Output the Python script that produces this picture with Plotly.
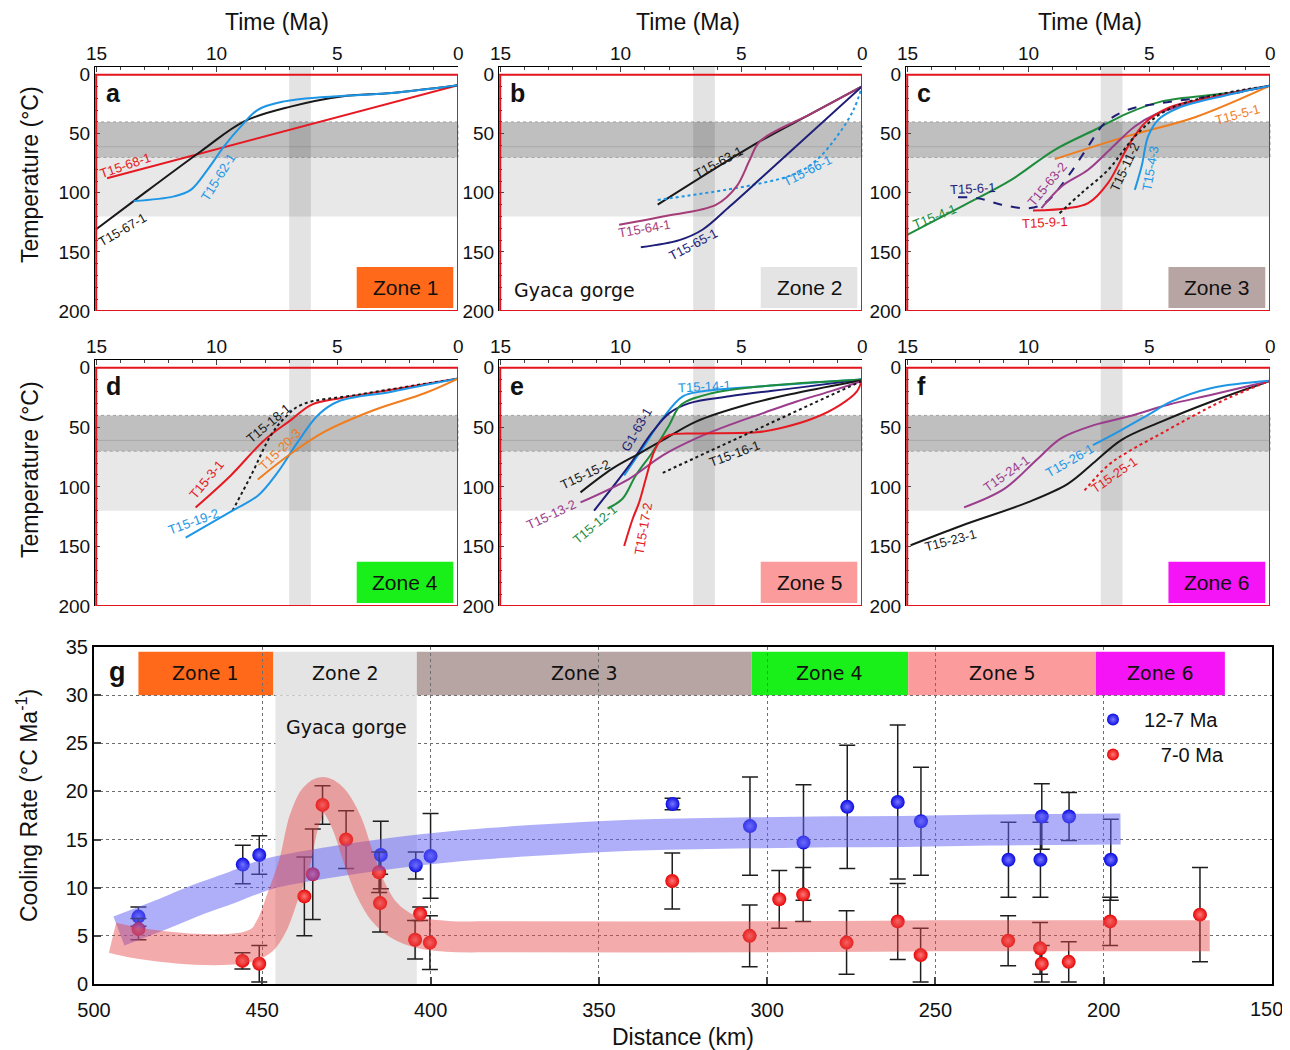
import plotly.graph_objects as go

# The page places the figure 8 px from the window's top-left corner,
# so the figure is sized to fill the rest of the 1290x1050 window.
OX, OY = 8, 8
FW, FH = 1282, 1042
FONT = "Liberation Sans, Arial, sans-serif"
VFONT = "DejaVu Sans, Verdana, sans-serif"


def fx(px):
    return (px - OX) / FW


def fy(py):
    return 1 - (py - OY) / FH


# ===================== DATA =====================
time_ticks = [15, 10, 5, 0]
temp_ticks = [0, 50, 100, 150, 200]
dist_ticks = [500, 450, 400, 350, 300, 250, 200, 150]
rate_ticks = [0, 5, 10, 15, 20, 25, 30, 35]

# ---- Panel a (Zone 1): time (Ma), temperature (degC)
t15_68_1_time = [14.55, 0.0]
t15_68_1_temp = [87.6, 9.0]
t15_67_1_time = [15.0, 13.45, 10.67, 8.86, 6.9, 4.83, 2.75, 0.0]
t15_67_1_temp = [130.8, 107, 65, 39.5, 26.8, 18.4, 15.5, 9.0]
t15_62_1_time = [13.45, 11.78, 11.08, 10.39, 9.7, 9.0, 8.3, 7.2, 5.53, 2.75, 0.0]
t15_62_1_temp = [107, 103, 97.5, 80.5, 60.7, 43.8, 29.7, 22.6, 18.9, 15.5, 9.0]

# ---- Panel b (Zone 2)
t15_63_1_time = [8.47, 4.24, 2.1, 0.0]
t15_63_1_temp = [110, 56.5, 33, 9.9]
t15_66_1_time = [8.47, 4.5, 2.7, 1.87, 1.04, 0.35, 0.0]
t15_66_1_temp = [106, 93.2, 83.3, 72, 52.3, 29.7, 9.9]
t15_64_1_time = [10.07, 8.26, 6.04, 5.2, 4.65, 4.24, 2.1, 0.0]
t15_64_1_temp = [127, 120, 110, 94.6, 72, 56.5, 33, 9.9]
t15_65_1_time = [9.17, 7.57, 6.6, 5.49, 4.1, 0.0]
t15_65_1_temp = [146, 140, 131, 111.6, 86, 9.9]

# ---- Panel c (Zone 3)
t15_4_1_time = [15.0, 12.76, 10.7, 8.9, 7.24, 5.87, 4.48, 1.72, 0.0]
t15_4_1_temp = [135.6, 111.6, 89, 63.6, 46.6, 32.5, 22.6, 15.5, 9.3]
t15_6_1_time = [12.9, 12.07, 11.1, 10.0, 9.32, 8.35, 7.52, 6.83, 5.87, 4.48, 1.72, 0.0]
t15_6_1_temp = [103.7, 104.5, 110, 113, 108.8, 86, 60.7, 41, 29.7, 24, 16.5, 9.3]
t15_5_1_time = [8.9, 5.9, 3.1, 0.0]
t15_5_1_temp = [71.5, 52, 36, 9.3]
t15_63_2_time = [9.45, 8.62, 7.52, 6.55, 5.59, 4.76, 1.72, 0.0]
t15_63_2_temp = [113, 94.6, 80.5, 62, 43.8, 33.9, 16, 9.3]
t15_9_1_time = [9.8, 8.35, 7.52, 6.7, 5.87, 5.18, 4.21, 1.72, 0.0]
t15_9_1_temp = [115, 113, 108.8, 91.8, 60.7, 41, 28.2, 16.5, 9.3]
t15_11_2_time = [8.7, 7.8, 6.69, 5.59, 4.48, 3.1, 0.0]
t15_11_2_temp = [117.2, 100.3, 80.5, 52.3, 32.5, 21.2, 9.3]
t15_4_3_time = [5.59, 5.31, 5.04, 4.62, 3.79, 1.72, 0.0]
t15_4_3_temp = [97.5, 77.7, 52.3, 38.1, 28.2, 17, 9.3]

# ---- Panel d (Zone 4)
t15_3_1_time = [10.88, 9.42, 8.03, 6.92, 6.08, 4.83, 2.75, 0.0]
t15_3_1_temp = [117.3, 90.4, 60.8, 43.8, 31.1, 25.4, 18.4, 9.1]
t15_18_1_time = [9.35, 8.58, 7.75, 7.2, 6.5, 4.14, 0.0]
t15_18_1_temp = [120, 90.4, 56.5, 42.4, 31.1, 22.6, 9.1]
t15_19_2_time = [11.29, 9.35, 8.3, 7.47, 6.64, 5.8, 4.97, 2.75, 0.0]
t15_19_2_temp = [142.7, 120, 107.4, 87.6, 62.2, 39.6, 28.3, 20.1, 9.1]
t15_20_3_time = [8.3, 6.92, 5.53, 3.45, 1.36, 0.0]
t15_20_3_temp = [93.8, 72, 53.7, 35.3, 21.2, 9.1]

# ---- Panel e (Zone 5)
t15_14_1_time = [9.86, 9.1, 8.26, 7.43, 6.6, 4.1, 0.0]
t15_14_1_temp = [90.4, 67.8, 42.4, 24, 19.8, 15.5, 9.9]
g1_63_1_time = [11.11, 9.65, 8.68, 7.99, 7.15, 5.49, 2.71, 0.0]
g1_63_1_temp = [120, 82, 53.7, 38.1, 29.7, 24, 16.9, 9.9]
t15_12_1_time = [10.55, 9.93, 9.38, 8.68, 7.99, 7.5, 6.18, 4.1, 0.0]
t15_12_1_temp = [118.1, 110, 90.4, 70.7, 48, 31.1, 21.2, 15.5, 9.9]
t15_15_2_time = [11.67, 10.35, 9.24, 8.26, 6.88, 4.79, 2.71, 0.0]
t15_15_2_temp = [104.6, 84.7, 72, 60.8, 45.2, 31.1, 21.2, 10.5]
t15_13_2_time = [11.67, 9.65, 8.26, 6.88, 5.49, 4.1, 2.71, 1.32, 0.0]
t15_13_2_temp = [113, 93.2, 73.5, 59.3, 48, 38.1, 28.3, 19.8, 11]
t15_17_2_time = [9.86, 9.51, 9.24, 8.96, 8.68, 8.4, 7.99, 6.88, 4.38, 3.4, 2.01, 0.9, 0.21, 0.0]
t15_17_2_temp = [149.7, 127, 113, 93, 73.5, 62.2, 56.5, 55.1, 54.2, 50.8, 42.4, 31.1, 19.8, 9.9]
t15_16_1_time = [8.26, 0.0]
t15_16_1_temp = [88.2, 11]

# ---- Panel f (Zone 6)
t15_23_1_time = [14.86, 12.79, 10.02, 8.36, 7.25, 6.15, 4.49, 2.41, 0.0]
t15_23_1_temp = [149, 132.8, 113, 97.5, 79.1, 60.7, 45.2, 28.3, 11]
t15_24_1_time = [12.65, 10.99, 9.6, 8.64, 7.25, 5.87, 4.21, 2.41, 0.0]
t15_24_1_temp = [117.2, 101.7, 76.3, 59.3, 48, 41, 31.1, 22.6, 11]
t15_26_1_time = [7.32, 6.15, 5.04, 4.07, 2.41, 0.0]
t15_26_1_temp = [65, 52.3, 39.6, 28.3, 17, 11]
t15_25_1_time = [7.67, 6.7, 5.87, 4.49, 3.1, 1.72, 0.0]
t15_25_1_temp = [103, 82, 70.6, 55.1, 39.6, 25.4, 11]

# ---- Panel g: cooling rates vs distance
blue_dist = [486.8, 455.8, 450.9, 414.8, 404.4, 400.0, 328.1, 305.1, 289.2, 276.2,
             261.2, 254.3, 228.3, 218.4, 218.8, 210.3, 197.9]
blue_rate = [7.0, 12.4, 13.4, 13.4, 12.3, 13.3, 18.7, 16.4, 14.7, 18.4,
             18.9, 16.9, 12.9, 17.4, 12.9, 17.4, 12.9]
blue_err = [1.0, 2.0, 2.0, 3.5, 1.4, 4.4, 0.6, 5.1, 6.0, 6.4,
            8.0, 5.6, 3.9, 3.4, 3.9, 2.5, 4.2]

red_dist = [486.8, 455.9, 450.9, 437.5, 435.0, 432.1, 425.1, 415.3, 415.0, 403.1,
            404.6, 400.2, 328.2, 305.2, 296.4, 289.3, 276.4, 261.2, 254.4, 228.4,
            218.9, 218.4, 210.4, 198.1, 171.4]
red_rate = [5.7, 2.4, 2.1, 9.1, 11.4, 18.6, 15.0, 11.6, 8.4, 7.3,
            4.6, 4.3, 10.7, 5.0, 8.8, 9.3, 4.3, 6.5, 3.0, 4.5,
            3.7, 2.1, 2.3, 6.5, 7.2]
red_err = [1.1, 0.85, 1.9, 4.1, 4.7, 2.0, 3.0, 2.1, 3.0, 0.7,
           2.0, 2.8, 2.9, 3.2, 3.0, 2.8, 3.3, 3.95, 2.8, 2.6,
           2.7, 1.9, 2.1, 2.5, 4.9]

# trend bands (hand-drawn envelopes), centre lines
blue_band_dist = [492.6, 480, 470, 460, 448.5, 430.7, 411, 393, 370, 350, 330, 305, 280, 260, 230, 195]
blue_band_rate = [5.5, 7.2, 8.65, 9.9, 11.4, 12.6, 13.6, 14.3, 14.9, 15.3, 15.55, 15.7, 15.8, 15.85, 16.0, 16.1]
red_band_dist = [494.5, 488, 480, 470, 460, 454, 450, 447, 444, 440.5, 437.5, 434.5, 432, 429, 425,
                 421.5, 418, 414, 409, 403, 395, 380, 300, 250, 200, 168.5]
red_band_rate = [4.8, 4.3, 3.9, 3.6, 3.6, 3.9, 4.6, 6.2, 9.0, 12.5, 17.0, 19.3, 19.9, 19.2, 16.8,
                 13.2, 10.0, 7.6, 6.1, 5.3, 4.95, 4.9, 4.9, 5.0, 5.0, 5.0]

# zone limits along the profile (km)
zone_names = ["Zone 1", "Zone 2", "Zone 3", "Zone 4", "Zone 5", "Zone 6"]
zone_start = [486.8, 446.7, 404.1, 304.6, 258.1, 202.3]
zone_end = [446.7, 404.1, 304.6, 258.1, 202.3, 164.0]
gorge_start, gorge_end = 446.1, 404.1

# ===================== STYLE =====================
RED = "rgb(230,25,35)"
BLACK = "rgb(25,25,25)"
LBLUE = "rgb(30,150,230)"
PINK = "rgb(165,60,120)"
NAVY = "rgb(30,30,120)"
GREEN = "rgb(30,140,60)"
ORANGE = "rgb(240,125,30)"
PURPLE = "rgb(155,60,140)"

zone_colors = ["rgb(255,105,25)", "rgb(228,228,228)", "rgb(183,165,164)",
               "rgb(25,240,25)", "rgb(252,155,155)", "rgb(245,20,245)"]

# panel pixel boxes in the window (left, right, top, bottom)
px_box = {'a': (95, 458, 67, 311), 'b': (499, 862, 67, 311), 'c': (906, 1270, 67, 311),
          'd': (95, 458, 360, 606), 'e': (499, 862, 360, 606), 'f': (906, 1270, 360, 606)}
panel_keys = ['a', 'b', 'c', 'd', 'e', 'f']

curves = [
    # panel, time, temp, color, dash, label, label_x, label_y, angle
    ('a', t15_68_1_time, t15_68_1_temp, RED, 'solid', 'T15-68-1', 13.8, 77, -19),
    ('a', t15_67_1_time, t15_67_1_temp, BLACK, 'solid', 'T15-67-1', 13.9, 131, -30),
    ('a', t15_62_1_time, t15_62_1_temp, LBLUE, 'solid', 'T15-62-1', 9.95, 87, -58),
    ('b', t15_63_1_time, t15_63_1_temp, BLACK, 'solid', 'T15-63-1', 5.97, 74, -28),
    ('b', t15_66_1_time, t15_66_1_temp, LBLUE, 'dot', 'T15-66-1', 2.24, 81, -27),
    ('b', t15_64_1_time, t15_64_1_temp, PINK, 'solid', 'T15-64-1', 9.0, 130, -10),
    ('b', t15_65_1_time, t15_65_1_temp, NAVY, 'solid', 'T15-65-1', 7.0, 144, -28),
    ('c', t15_4_1_time, t15_4_1_temp, GREEN, 'solid', 'T15-4-1', 13.85, 120, -22),
    ('c', t15_6_1_time, t15_6_1_temp, NAVY, 'dash', 'T15-6-1', 12.28, 96, -3),
    ('c', t15_5_1_time, t15_5_1_temp, ORANGE, 'solid', 'T15-5-1', 1.33, 34, -15),
    ('c', t15_63_2_time, t15_63_2_temp, PURPLE, 'solid', 'T15-63-2', 9.22, 93, -50),
    ('c', t15_9_1_time, t15_9_1_temp, RED, 'solid', 'T15-9-1', 9.3, 125, -3),
    ('c', t15_11_2_time, t15_11_2_temp, BLACK, 'dot', 'T15-11-2', 5.98, 78, -65),
    ('c', t15_4_3_time, t15_4_3_temp, LBLUE, 'solid', 'T15-4-3', 4.96, 79, -80),
    ('d', t15_3_1_time, t15_3_1_temp, RED, 'solid', 'T15-3-1', 10.42, 94, -50),
    ('d', t15_18_1_time, t15_18_1_temp, BLACK, 'dot', 'T15-18-1', 7.86, 46.6, -40),
    ('d', t15_19_2_time, t15_19_2_temp, LBLUE, 'solid', 'T15-19-2', 10.97, 129, -20),
    ('d', t15_20_3_time, t15_20_3_temp, ORANGE, 'solid', 'T15-20-3', 7.38, 69, -45),
    ('e', t15_14_1_time, t15_14_1_temp, LBLUE, 'solid', 'T15-14-1', 6.51, 16, -3),
    ('e', g1_63_1_time, g1_63_1_temp, NAVY, 'solid', 'G1-63-1', 9.34, 52, -60),
    ('e', t15_12_1_time, t15_12_1_temp, GREEN, 'solid', 'T15-12-1', 11.07, 132, -40),
    ('e', t15_15_2_time, t15_15_2_temp, BLACK, 'solid', 'T15-15-2', 11.48, 90, -25),
    ('e', t15_13_2_time, t15_13_2_temp, PURPLE, 'solid', 'T15-13-2', 12.87, 123.6, -25),
    ('e', t15_17_2_time, t15_17_2_temp, RED, 'solid', 'T15-17-2', 9.08, 134.6, -80),
    ('e', t15_16_1_time, t15_16_1_temp, BLACK, 'dot', 'T15-16-1', 5.27, 71.6, -20),
    ('f', t15_23_1_time, t15_23_1_temp, BLACK, 'solid', 'T15-23-1', 13.23, 144.6, -15),
    ('f', t15_24_1_time, t15_24_1_temp, PURPLE, 'solid', 'T15-24-1', 10.89, 88.6, -35),
    ('f', t15_26_1_time, t15_26_1_temp, LBLUE, 'solid', 'T15-26-1', 8.27, 77.5, -30),
    ('f', t15_25_1_time, t15_25_1_temp, RED, 'dot', 'T15-25-1', 6.41, 90, -35),
]

fig = go.Figure()
layout_axes = {}
shapes = []
annotations = []


def ax_names(i):
    xs = 'x' if i == 1 else f'x{i}'
    ys = 'y' if i == 1 else f'y{i}'
    return xs, ys


for i, k in enumerate(panel_keys, start=1):
    L, R, T, B = px_box[k]
    xs, ys = ax_names(i)
    xa = 'xaxis' if i == 1 else f'xaxis{i}'
    ya = 'yaxis' if i == 1 else f'yaxis{i}'
    layout_axes[xa] = dict(domain=[fx(L), fx(R)], range=[15.05, 0], anchor=ys, side='top',
                           tickmode='array', tickvals=time_ticks, showticklabels=False,
                           ticks='inside', ticklen=5, tickwidth=1,
                           minor=dict(ticks='inside', ticklen=3, tick0=0, dtick=1, showgrid=False),
                           showline=True, linecolor='black', linewidth=1.2,
                           showgrid=False, zeroline=False, automargin=False)
    layout_axes[ya] = dict(domain=[fy(B), fy(T)], range=[200, -6.5], anchor=xs,
                           tickmode='array', tickvals=temp_ticks,
                           ticks='inside', ticklen=5, tickwidth=1,
                           minor=dict(ticks='inside', ticklen=3, tick0=0, dtick=10, showgrid=False),
                           showline=True, linecolor='black', linewidth=1.2,
                           showgrid=False, zeroline=False, automargin=False,
                           tickfont=dict(size=19, color='#111', family=FONT))
    # time tick labels (placed close above the top axis line, as in the original)
    for tv in time_ticks:
        annotations.append(dict(text=str(tv), xref=xs, yref=f'{ys} domain', x=tv, y=1,
                                xanchor='center', yanchor='bottom', yshift=1, showarrow=False,
                                font=dict(size=19, color='#111', family=FONT)))
    xd = f'{xs} domain'
    # PAZ / PRZ bands
    shapes.append(dict(type='rect', xref=xd, yref=ys, x0=0, x1=1, y0=70, y1=120,
                       fillcolor='rgb(231,232,231)', line=dict(width=0), layer='below'))
    shapes.append(dict(type='rect', xref=xd, yref=ys, x0=0, x1=1, y0=40, y1=70,
                       fillcolor='rgb(190,191,190)',
                       line=dict(width=1, color='rgb(160,160,160)', dash='dot'), layer='below'))
    shapes.append(dict(type='line', xref=xd, yref=ys, x0=0, x1=1, y0=61, y1=61,
                       line=dict(width=1, color='rgb(170,170,170)'), layer='below'))
    # 7-6 Ma vertical band
    shapes.append(dict(type='rect', xref=xs, yref=f'{ys} domain', x0=7.0, x1=6.1, y0=0, y1=1,
                       fillcolor='rgba(0,0,0,0.11)', line=dict(width=0), layer='below'))
    # red frame
    shapes.append(dict(type='rect', xref=xs, yref=ys, x0=15, x1=0, y0=0, y1=200,
                       fillcolor='rgba(0,0,0,0)', line=dict(width=2, color='rgb(228,20,28)'),
                       layer='above'))
    # zone box
    zi = i - 1
    shapes.append(dict(type='rect', xref=xd, yref=f'{ys} domain', x0=0.721, x1=0.987,
                       y0=0.012, y1=0.18, fillcolor=zone_colors[zi], line=dict(width=0),
                       layer='above'))
    annotations.append(dict(text=zone_names[zi], xref=xd, yref=f'{ys} domain',
                            x=0.854, y=0.096, showarrow=False, xanchor='center', yanchor='middle',
                            font=dict(size=21, color='#111', family=FONT)))
    # panel letter
    annotations.append(dict(text=f'<b>{k}</b>', xref=xd, yref=f'{ys} domain', x=0.026, y=0.895,
                            showarrow=False, xanchor='left', yanchor='middle',
                            font=dict(size=25, color='#111', family=FONT)))

for (k, tt, TT, col, dash, lab, lx, ly, ang) in curves:
    i = panel_keys.index(k) + 1
    xs, ys = ax_names(i)
    fig.add_trace(go.Scatter(x=tt, y=TT, xaxis=xs, yaxis=ys, mode='lines',
                             line=dict(color=col, width=2, dash=dash, shape='spline', smoothing=1.0),
                             showlegend=False, hoverinfo='skip'))
    annotations.append(dict(text=lab, xref=xs, yref=ys, x=lx, y=ly, textangle=ang,
                            showarrow=False, xanchor='center', yanchor='middle',
                            font=dict(size=13, color=col, family=FONT)))

# Gyaca gorge label in panel b
annotations.append(dict(text='Gyaca gorge', xref='x2 domain', yref='y2 domain', x=0.036, y=0.085,
                        showarrow=False, xanchor='left', yanchor='middle',
                        font=dict(size=19, color='#111', family=VFONT)))

# ---------------- panel g ----------------
gL, gR, gT, gB = 94, 1272, 647, 984
layout_axes['xaxis7'] = dict(domain=[fx(gL), fx(gR)], range=[500, 150], anchor='y7',
                             tickmode='array', tickvals=dist_ticks,
                             ticktext=[str(v) for v in dist_ticks[:-1]] + [''],
                             ticks='inside', ticklen=7, tickwidth=1.5,
                             showline=True, mirror=True, linecolor='black', linewidth=2,
                             showgrid=True, griddash='dot', gridcolor='rgb(110,110,110)', gridwidth=1,
                             zeroline=False, automargin=False, ticklabelstandoff=7,
                             tickfont=dict(size=20, color='#111', family=FONT))
layout_axes['yaxis7'] = dict(domain=[fy(gB), fy(gT)], range=[0, 35], anchor='x7',
                             tickmode='array', tickvals=rate_ticks,
                             ticks='inside', ticklen=7, tickwidth=1.5,
                             showline=True, mirror=True, linecolor='black', linewidth=2,
                             showgrid=True, griddash='dot', gridcolor='rgb(110,110,110)', gridwidth=1,
                             zeroline=False, automargin=False,
                             tickfont=dict(size=20, color='#111', family=FONT))
# last distance label kept inside the window's right edge
annotations.append(dict(text=str(dist_ticks[-1]), xref='paper', yref='y7 domain', x=fx(1285), y=0,
                        xanchor='right', yanchor='top', yshift=-12, showarrow=False,
                        font=dict(size=20, color='#111', family=FONT)))

for zi in range(6):
    shapes.append(dict(type='rect', xref='x7', yref='y7', x0=zone_start[zi], x1=zone_end[zi],
                       y0=30, y1=34.5, fillcolor=zone_colors[zi], line=dict(width=0), layer='below'))
    annotations.append(dict(text=zone_names[zi], xref='x7', yref='y7',
                            x=(zone_start[zi] + zone_end[zi]) / 2, y=32.3, showarrow=False,
                            xanchor='center', yanchor='middle',
                            font=dict(size=19, color='#111', family=VFONT)))
shapes.append(dict(type='rect', xref='x7', yref='y7', x0=gorge_start, x1=gorge_end, y0=0, y1=30,
                   fillcolor='rgb(231,231,231)', line=dict(width=0), layer='between'))
annotations.append(dict(text='Gyaca gorge', xref='x7', yref='y7', x=(gorge_start + gorge_end) / 2,
                        y=26.7, showarrow=False, xanchor='center', yanchor='middle',
                        font=dict(size=19, color='#111', family=VFONT)))
annotations.append(dict(text='<b>g</b>', xref='x7 domain', yref='y7 domain', x=0.011, y=0.925,
                        showarrow=False, xanchor='left', yanchor='middle',
                        font=dict(size=27, color='#111', family=FONT)))

fig.add_trace(go.Scatter(x=blue_dist, y=blue_rate, xaxis='x7', yaxis='y7', mode='markers',
                         name='\u00a0\u00a012-7 Ma', legendgroup='b',
                         marker=dict(size=14, color='rgb(10,10,225)',
                                     gradient=dict(type='radial', color='rgb(120,120,255)'),
                                     line=dict(width=0)),
                         error_y=dict(type='data', array=blue_err, color='rgb(30,30,30)',
                                      thickness=1.5, width=8),
                         hoverinfo='skip'))
fig.add_trace(go.Scatter(x=red_dist, y=red_rate, xaxis='x7', yaxis='y7', mode='markers',
                         name='\u00a0\u00a0\u00a0\u00a0\u00a07-0 Ma', legendgroup='r',
                         marker=dict(size=14, color='rgb(230,5,5)',
                                     gradient=dict(type='radial', color='rgb(255,120,120)'),
                                     line=dict(width=0)),
                         error_y=dict(type='data', array=red_err, color='rgb(30,30,30)',
                                      thickness=1.5, width=8),
                         hoverinfo='skip'))
fig.add_trace(go.Scatter(x=blue_band_dist, y=blue_band_rate, xaxis='x7', yaxis='y7', mode='lines',
                         line=dict(color='rgb(95,95,245)', width=31, shape='spline', smoothing=1.0),
                         opacity=0.5, showlegend=False, hoverinfo='skip'))
fig.add_trace(go.Scatter(x=red_band_dist, y=red_band_rate, xaxis='x7', yaxis='y7', mode='lines',
                         line=dict(color='rgb(232,70,70)', width=31, shape='spline', smoothing=1.0),
                         opacity=0.45, showlegend=False, hoverinfo='skip'))

# axis titles
for cx in (277, 688, 1090):
    annotations.append(dict(text='Time (Ma)', xref='paper', yref='paper', x=fx(cx), y=fy(22),
                            showarrow=False, xanchor='center', yanchor='middle',
                            font=dict(size=23, color='#111', family=FONT)))
for cy in (175, 470):
    annotations.append(dict(text='Temperature (\u00b0C)', xref='paper', yref='paper', x=fx(30),
                            y=fy(cy), textangle=-90, showarrow=False,
                            xanchor='center', yanchor='middle',
                            font=dict(size=23, color='#111', family=FONT)))
annotations.append(dict(text='Cooling Rate (\u00b0C Ma<sup>-1</sup>)', xref='paper', yref='paper',
                        x=fx(27), y=fy(806), textangle=-90, showarrow=False,
                        xanchor='center', yanchor='middle',
                        font=dict(size=23, color='#111', family=FONT)))
annotations.append(dict(text='Distance (km)', xref='paper', yref='paper', x=fx(683), y=fy(1037),
                        showarrow=False, xanchor='center', yanchor='middle',
                        font=dict(size=23, color='#111', family=FONT)))

fig.update_layout(width=FW, height=FH, margin=dict(l=0, r=0, t=0, b=0, autoexpand=False),
                  paper_bgcolor='white', plot_bgcolor='white',
                  font=dict(family=FONT, color='#111'),
                  shapes=shapes, annotations=annotations,
                  showlegend=True,
                  legend=dict(x=fx(1093), y=fy(700), xanchor='left', yanchor='top',
                              bgcolor='rgba(0,0,0,0)', font=dict(size=20, family=FONT, color='#111'),
                              tracegroupgap=6, itemsizing='constant'),
                  **layout_axes)

fig.write_html("out.html")
